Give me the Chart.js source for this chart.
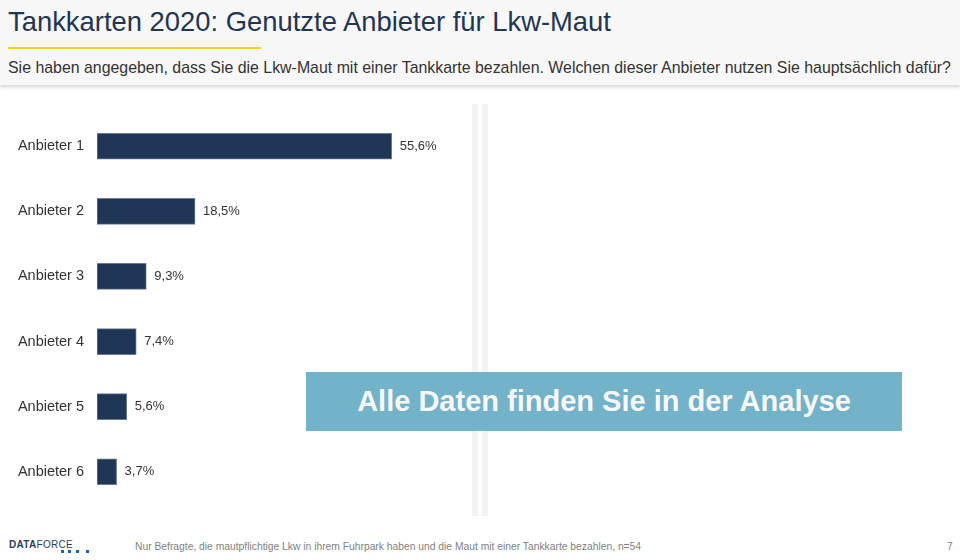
<!DOCTYPE html>
<html lang="de">
<head>
  <meta charset="UTF-8">
  <title>Tankkarten 2020: Genutzte Anbieter für Lkw-Maut</title>
  <script src="https://cdn.jsdelivr.net/npm/chart.js"></script>
  <style>
    body {
      margin: 0;
      width: 960px;
      height: 560px;
      position: relative;
      overflow: hidden;
      background: #ffffff;
      font-family: 'Liberation Sans', Arial, sans-serif;
    }
    #header {
      position: absolute;
      left: 0; top: 0;
      width: 960px; height: 85px;
      background: #f7f7f7;
      box-shadow: 0 2px 4px rgba(0,0,0,0.18);
    }
    #title {
      position: absolute;
      left: 8px; top: 6px;
      font-size: 27.4px;
      color: #1f3552;
    }
    #underline {
      position: absolute;
      left: 8px; top: 47px;
      width: 253px; height: 2px;
      background: #f7d117;
    }
    #subtitle {
      position: absolute;
      left: 8px; top: 59px;
      font-size: 15.9px;
      color: #333333;
    }
    .divider {
      position: absolute;
      top: 104px;
      width: 6px; height: 412px;
      background: #f3f3f3;
    }
    #anbieterChart {
      position: absolute;
      left: 0; top: 100px;
    }
    #overlay {
      position: absolute;
      left: 306px; top: 372px;
      width: 596px; height: 59px;
      background: #72b3c9;
      color: #f7f7f7;
      font-weight: bold;
      font-size: 29px;
      line-height: 59px;
      text-align: center;
    }
    #logo {
      position: absolute;
      left: 9px; top: 539px;
      font-size: 10px;
      font-weight: bold;
      color: #2d3e5a;
      letter-spacing: 0.3px;
    }
    #logo span { font-weight: normal; }
    .dot {
      position: absolute;
      top: 550px;
      width: 3px; height: 3px;
      background: #1f5fae;
    }
    #note {
      position: absolute;
      left: 135px; top: 541px;
      font-size: 10.3px;
      color: #7f7f7f;
    }
    #page {
      position: absolute;
      left: 947px; top: 541px;
      font-size: 10.3px;
      color: #7f7f7f;
    }
  </style>
</head>
<body>
  <div id="header">
    <div id="title">Tankkarten 2020: Genutzte Anbieter für Lkw-Maut</div>
    <div id="underline"></div>
    <div id="subtitle">Sie haben angegeben, dass Sie die Lkw-Maut mit einer Tankkarte bezahlen. Welchen dieser Anbieter nutzen Sie hauptsächlich dafür?</div>
  </div>

  <div class="divider" style="left:472px"></div>
  <div class="divider" style="left:482px"></div>

  <canvas id="anbieterChart" width="468" height="418"></canvas>

  <div id="overlay">Alle Daten finden Sie in der Analyse</div>

  <div id="logo">DATA<span>FORCE</span></div>
  <div class="dot" style="left:61px"></div>
  <div class="dot" style="left:68px"></div>
  <div class="dot" style="left:76px"></div>
  <div class="dot" style="left:86px"></div>
  <div id="note">Nur Befragte, die mautpflichtige Lkw in ihrem Fuhrpark haben und die Maut mit einer Tankkarte bezahlen, n=54</div>
  <div id="page">7</div>

  <script>
    const anbieter = ['Anbieter 1', 'Anbieter 2', 'Anbieter 3', 'Anbieter 4', 'Anbieter 5', 'Anbieter 6'];
    const anteile = [55.6, 18.5, 9.3, 7.4, 5.6, 3.7];

    // Prozentwerte rechts neben die Balken schreiben
    const wertLabels = {
      id: 'wertLabels',
      afterDatasetsDraw(chart) {
        const ctx = chart.ctx;
        const meta = chart.getDatasetMeta(0);
        ctx.save();
        ctx.font = '13px "Liberation Sans", Arial, sans-serif';
        ctx.fillStyle = '#333333';
        ctx.textAlign = 'left';
        ctx.textBaseline = 'middle';
        meta.data.forEach((bar, i) => {
          const txt = anteile[i].toFixed(1).replace('.', ',') + '%';
          ctx.fillText(txt, bar.x + 8, bar.y);
        });
        ctx.restore();
      }
    };

    const ctx = document.getElementById('anbieterChart').getContext('2d');
    new Chart(ctx, {
      type: 'bar',
      data: {
        labels: anbieter,
        datasets: [{
          data: anteile,
          backgroundColor: '#203656',
          borderColor: '#6a7a90',
          borderWidth: 1,
          borderSkipped: false,
          barThickness: 26
        }]
      },
      options: {
        indexAxis: 'y',
        responsive: false,
        animation: false,
        layout: { padding: 0 },
        plugins: {
          legend: { display: false },
          tooltip: { enabled: false }
        },
        scales: {
          x: {
            display: false,
            min: 0,
            max: 70
          },
          y: {
            grid: { display: false },
            border: { display: false },
            ticks: {
              color: '#333333',
              padding: 5,
              font: { size: 14.5, family: '"Liberation Sans", Arial, sans-serif' }
            },
            afterFit: (scale) => { scale.width = 97; }
          }
        }
      },
      plugins: [wertLabels]
    });
  </script>
</body>
</html>
